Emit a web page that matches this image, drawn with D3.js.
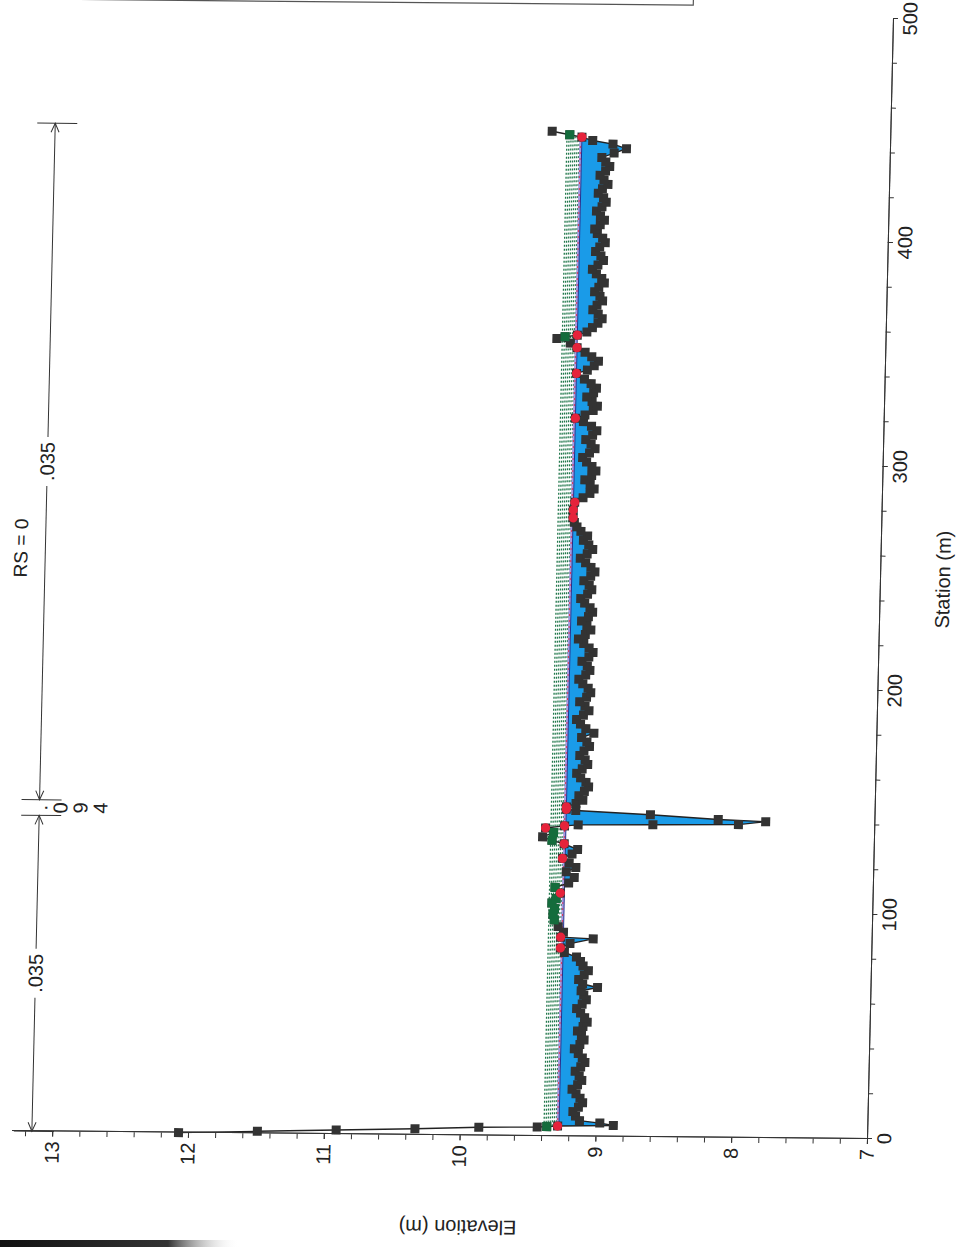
<!DOCTYPE html>
<html>
<head>
<meta charset="utf-8">
<script src="https://cdn.jsdelivr.net/npm/d3@7"></script>
<style>
body { margin: 0; background: #fff; }
svg { display: block; font-family: "Liberation Sans", Arial, sans-serif; }
</style>
</head>
<body>
<svg id="chart" width="965" height="1247"></svg>
<script>
var title = "RS = 0";
var stationLabel = "Station (m)";
var elevationLabel = "Elevation (m)";
var stationTicks = [0, 100, 200, 300, 400, 500];
var elevationTicks = [7, 8, 9, 10, 11, 12, 13];

// ground points: [station, elevation, marker] ("g" green, "r" red)
var ground = [
    [0, 12.07], [0.9, 11.49], [1.8, 10.91], [2.7, 10.33], [3.6, 9.86],
    [4.0, 9.43], [4.2, 9.36, "g"], [4.5, 9.28, "r"], [5.0, 8.87], [6.0, 8.97],
    [7, 9.12], [9, 9.15], [11, 9.17], [13, 9.13], [15, 9.10], [17, 9.12],
    [19, 9.15], [21, 9.18], [23, 9.14], [25, 9.11], [27, 9.13], [29, 9.16],
    [31, 9.12], [33, 9.09], [35, 9.11], [37, 9.14], [39, 9.17], [41, 9.13],
    [43, 9.10], [45, 9.12], [47, 9.15], [49, 9.11], [51, 9.08], [53, 9.10],
    [55, 9.13], [57, 9.16], [59, 9.12], [61, 9.09], [63, 9.11], [65, 9.13],
    [66.5, 9.01], [68, 9.12], [70, 9.15], [72, 9.11], [74, 9.08], [76, 9.12],
    [78, 9.14], [80, 9.17], [82, 9.26],
    [84, 9.29, "r"], [86, 9.22], [88.2, 9.05], [88.8, 9.29, "r"], [91, 9.27],
    [93.5, 9.31], [96.5, 9.34, "g"], [99, 9.35, "g"], [101.5, 9.34, "g"],
    [104, 9.36, "g"], [106, 9.33, "g"], [108.5, 9.30, "r"], [111, 9.34, "g"],
    [113, 9.24], [115.5, 9.20], [118, 9.26], [120, 9.19], [122, 9.24],
    [124, 9.29, "r"], [126, 9.22], [128, 9.18], [130.5, 9.28, "r"],
    [132, 9.37, "g"], [133.5, 9.44], [135.5, 9.36, "g"], [137.5, 9.42, "r"],
    [138.5, 9.28, "r"],
    [139, 9.18], [139.4, 8.63], [139.8, 8.00], [141.2, 7.80], [142, 8.15],
    [143.8, 8.65], [145.4, 9.20], [145.9, 9.27, "r"], [147, 9.27, "r"],
    [148.5, 9.20], [150, 9.15], [152, 9.18], [154, 9.14], [156, 9.11],
    [158, 9.13], [160, 9.17], [162, 9.20], [164, 9.16], [166, 9.12],
    [168, 9.14], [170, 9.18], [172, 9.15], [174, 9.11], [176, 9.13],
    [178, 9.17], [180, 9.08], [182, 9.14], [184, 9.18], [186, 9.21],
    [188, 9.16], [190, 9.12], [192, 9.15], [194, 9.19], [196, 9.14],
    [198, 9.11], [200, 9.13], [202, 9.17], [204, 9.20], [206, 9.15],
    [208, 9.12], [210, 9.14], [212, 9.18], [214, 9.13], [216, 9.10],
    [218, 9.13], [220, 9.17], [222, 9.21], [224, 9.16], [226, 9.12],
    [228, 9.15], [230, 9.19], [232, 9.14], [234, 9.11], [236, 9.13],
    [238, 9.17], [240, 9.20], [242, 9.15], [244, 9.12], [246, 9.14],
    [248, 9.18], [250, 9.13], [252, 9.10], [254, 9.13], [256, 9.17],
    [258, 9.21], [260, 9.16], [262, 9.12], [264, 9.15], [266, 9.19],
    [268, 9.16], [270, 9.21], [272, 9.24], [274, 9.26], [276, 9.27, "r"],
    [279.5, 9.27, "r"], [283, 9.26, "r"], [285, 9.20], [287, 9.15],
    [289, 9.12], [291, 9.15], [293, 9.19], [295, 9.14], [297, 9.11],
    [299, 9.14], [301, 9.18], [303, 9.21], [305, 9.16], [307, 9.12],
    [309, 9.15], [311, 9.19], [313, 9.14], [315, 9.11], [317, 9.15],
    [319, 9.21], [320.5, 9.27, "r"], [322, 9.20], [324, 9.14], [326, 9.11],
    [328, 9.15], [330, 9.19], [332, 9.14], [334, 9.12], [336, 9.16],
    [338, 9.21], [340.5, 9.27, "r"], [342, 9.19], [344, 9.14], [346, 9.11],
    [348, 9.16], [350, 9.21], [352, 9.27, "r"], [354, 9.32], [356, 9.42],
    [356.8, 9.36, "g"], [357.6, 9.27, "r"], [359, 9.20],
    [361, 9.16], [363, 9.12], [365, 9.09], [367, 9.12], [369, 9.16],
    [371, 9.13], [373, 9.09], [375, 9.11], [377, 9.15], [379, 9.12],
    [381, 9.08], [383, 9.10], [385, 9.14], [387, 9.17], [389, 9.13],
    [391, 9.09], [393, 9.11], [395, 9.15], [397, 9.12], [399, 9.08],
    [401, 9.10], [403, 9.14], [405, 9.16], [407, 9.12], [409, 9.09],
    [411, 9.12], [413, 9.15], [415, 9.11], [417, 9.08], [419, 9.10],
    [421, 9.14], [423, 9.11], [425, 9.07], [427, 9.10], [429, 9.13],
    [431, 9.09], [433, 9.06], [435, 9.09], [437, 9.12], [439, 9.03],
    [441, 8.94], [443, 9.04], [444.5, 9.19], [446, 9.27, "r"],
    [447, 9.36, "g"], [448.5, 9.49]
];

var waterSurface = 9.27;
var wsUpper = 9.28;
var egLevels = [9.29, 9.305, 9.32, 9.335, 9.35, 9.365, 9.38];

var nElevation = 13.15;
var nBreaks = [0, 141, 148, 450];
var nValues = [".035", ".094", ".035"];

// ---- frame: chart drawn upright, then turned onto the scanned page ----
var W = 1120, H = 855.5;
var x = d3.scaleLinear().domain([0, 500]).range([0, W]);
var y = d3.scaleLinear().domain([7, 13.3]).range([0, -H]);

var svg = d3.select("#chart");
var defs = svg.append("defs");

var g = svg.append("g")
    .attr("transform", "matrix(0.0232,-1,1,0.0093,867,1139)");

// legend box, mostly off the page
g.append("rect")
    .attr("x", 1132).attr("y", -813)
    .attr("width", 200).attr("height", 613)
    .attr("fill", "none").attr("stroke", "#555").attr("stroke-width", 1.2);

// pieces of ground lying under a level, with the crossing points added
function wetSegments(pts, level) {
    var segs = [], cur = null;
    for (var i = 0; i < pts.length; i++) {
        var p = pts[i], wet = p[1] < level;
        if (i > 0) {
            var q = pts[i - 1], wasWet = q[1] < level;
            if (wet !== wasWet) {
                var t = (level - q[1]) / (p[1] - q[1]);
                var c = [q[0] + t * (p[0] - q[0]), level];
                if (wet) {
                    cur = [c];
                } else {
                    cur.push(c);
                    segs.push(cur);
                    cur = null;
                }
            }
        }
        if (wet) {
            if (!cur) cur = [];
            cur.push(p);
        }
    }
    if (cur) segs.push(cur);
    return segs;
}

// outer crossings of a level with the ground
function extent(pts, level) {
    var a = null, b = null, i, t;
    for (i = 1; i < pts.length && a === null; i++) {
        if (pts[i - 1][1] >= level && pts[i][1] < level) {
            t = (level - pts[i - 1][1]) / (pts[i][1] - pts[i - 1][1]);
            a = pts[i - 1][0] + t * (pts[i][0] - pts[i - 1][0]);
        }
    }
    for (i = pts.length - 1; i > 0 && b === null; i--) {
        if (pts[i][1] >= level && pts[i - 1][1] < level) {
            t = (level - pts[i - 1][1]) / (pts[i][1] - pts[i - 1][1]);
            b = pts[i - 1][0] + t * (pts[i][0] - pts[i - 1][0]);
        }
    }
    return [a, b];
}

// water
var area = d3.area()
    .x(function (d) { return x(d[0]); })
    .y0(y(waterSurface))
    .y1(function (d) { return y(d[1]); });

g.append("g").selectAll("path")
    .data(wetSegments(ground, waterSurface))
    .enter().append("path")
    .attr("d", area)
    .attr("fill", "#1a9be8");

// energy grade lines
g.append("g").selectAll("line")
    .data(egLevels)
    .enter().append("line")
    .attr("x1", function (d) { return x(extent(ground, d)[0]); })
    .attr("x2", function (d) { return x(extent(ground, d)[1]); })
    .attr("y1", function (d) { return y(d); })
    .attr("y2", function (d) { return y(d); })
    .attr("stroke", "#22784c")
    .attr("stroke-width", 1.3)
    .attr("stroke-dasharray", "2,2");

// water surface lines
var wsExt = extent(ground, waterSurface), upExt = extent(ground, wsUpper);
g.append("line")
    .attr("x1", x(upExt[0])).attr("x2", x(upExt[1]))
    .attr("y1", y(wsUpper)).attr("y2", y(wsUpper))
    .attr("stroke", "#a79ce0").attr("stroke-width", 2.4);
g.append("line")
    .attr("x1", x(upExt[0])).attr("x2", x(upExt[1]))
    .attr("y1", y(wsUpper)).attr("y2", y(wsUpper))
    .attr("stroke", "#e0304a").attr("stroke-width", 0.9)
    .attr("stroke-dasharray", "2,4");
g.append("line")
    .attr("x1", x(wsExt[0])).attr("x2", x(wsExt[1]))
    .attr("y1", y(waterSurface)).attr("y2", y(waterSurface))
    .attr("stroke", "#25308f").attr("stroke-width", 1);

// ground line and points
var line = d3.line()
    .x(function (d) { return x(d[0]); })
    .y(function (d) { return y(d[1]); });

g.append("path")
    .datum(ground)
    .attr("d", line)
    .attr("fill", "none")
    .attr("stroke", "#222")
    .attr("stroke-width", 1.4);

var sq = 9;
g.append("g").selectAll("rect")
    .data(ground)
    .enter().append("rect")
    .attr("x", function (d) { return x(d[0]) - sq / 2; })
    .attr("y", function (d) { return y(d[1]) - sq / 2; })
    .attr("width", sq).attr("height", sq)
    .attr("fill", "#333");

g.append("g").selectAll("rect")
    .data(ground.filter(function (d) { return d[2] === "g"; }))
    .enter().append("rect")
    .attr("x", function (d) { return x(d[0]) - sq / 2; })
    .attr("y", function (d) { return y(d[1]) - sq / 2; })
    .attr("width", sq).attr("height", sq)
    .attr("fill", "#146c3c");

g.append("g").selectAll("circle")
    .data(ground.filter(function (d) { return d[2] === "r"; }))
    .enter().append("circle")
    .attr("cx", function (d) { return x(d[0]); })
    .attr("cy", function (d) { return y(d[1]); })
    .attr("r", 4.6)
    .attr("fill", "#e5233b");

// axes
function styleAxis(sel) {
    sel.attr("font-size", 20)
        .attr("font-family", "'Liberation Sans', Arial, sans-serif")
        .attr("color", "#333");
    sel.selectAll("text").attr("fill", "#222");
}

g.append("g")
    .call(d3.axisBottom(x).tickValues(d3.range(0, 501, 20))
        .tickFormat("").tickSize(5).tickSizeOuter(0))
    .call(styleAxis);
g.append("g")
    .call(d3.axisBottom(x).tickValues(stationTicks)
        .tickSize(5).tickPadding(5).tickSizeOuter(0))
    .call(styleAxis);

g.append("g")
    .call(d3.axisLeft(y).tickValues(d3.range(7, 13.21, 0.2))
        .tickFormat("").tickSize(5).tickSizeOuter(0))
    .call(styleAxis);
g.append("g")
    .call(d3.axisLeft(y).tickValues(elevationTicks)
        .tickFormat(d3.format("d")).tickSize(5).tickPadding(5).tickSizeOuter(0))
    .call(styleAxis);

g.append("text")
    .attr("x", x(250)).attr("y", 70)
    .attr("text-anchor", "middle")
    .attr("font-size", 20).attr("fill", "#222")
    .text(stationLabel);

g.append("text")
    .attr("transform", "translate(-85," + y(10) + ") rotate(-90)")
    .attr("text-anchor", "middle")
    .attr("font-size", 20).attr("fill", "#222")
    .text(elevationLabel);

g.append("text")
    .attr("x", 583).attr("y", -853)
    .attr("text-anchor", "middle")
    .attr("font-size", 19).attr("fill", "#222")
    .text(title);

// Manning's n bands along the top
var yN = y(nElevation);
var nG = g.append("g").attr("stroke", "#333").attr("stroke-width", 1).attr("fill", "none");

nBreaks.forEach(function (b) {
    nG.append("line")
        .attr("x1", x(b)).attr("x2", x(b))
        .attr("y1", yN - 18).attr("y2", yN + 22);
});

function arrow(px, dir) {
    nG.append("path")
        .attr("d", "M" + (px - dir * 9) + "," + (yN - 4) + "L" + px + "," + yN +
            "L" + (px - dir * 9) + "," + (yN + 4));
}

nValues.forEach(function (v, i) {
    var a = x(nBreaks[i]), b = x(nBreaks[i + 1]), mid = (a + b) / 2;
    if (b - a > 60) {
        var t = g.append("text")
            .attr("x", mid).attr("y", yN).attr("dy", "0.35em")
            .attr("text-anchor", "middle")
            .attr("font-size", 20).attr("fill", "#222")
            .text(v);
        var half = t.node().getComputedTextLength() / 2 + 5;
        nG.append("line").attr("x1", a).attr("x2", mid - half).attr("y1", yN).attr("y2", yN);
        nG.append("line").attr("x1", mid + half).attr("x2", b).attr("y1", yN).attr("y2", yN);
        arrow(a, -1);
        arrow(b, 1);
    } else {
        // too narrow: characters stacked under the line
        v.split("").forEach(function (c, k) {
            g.append("text")
                .attr("x", mid).attr("y", yN + 8 + 20 * k)
                .attr("text-anchor", "middle")
                .attr("font-size", 20).attr("fill", "#222")
                .text(c);
        });
    }
});

// dark scan edge at the bottom of the page
var grad = defs.append("linearGradient").attr("id", "scanEdge");
grad.append("stop").attr("offset", "0%").attr("stop-color", "#111");
grad.append("stop").attr("offset", "70%").attr("stop-color", "#333");
grad.append("stop").attr("offset", "100%").attr("stop-color", "#fff").attr("stop-opacity", 0);
svg.append("rect")
    .attr("x", 0).attr("y", 1240)
    .attr("width", 240).attr("height", 7)
    .attr("fill", "url(#scanEdge)");
</script>
</body>
</html>
